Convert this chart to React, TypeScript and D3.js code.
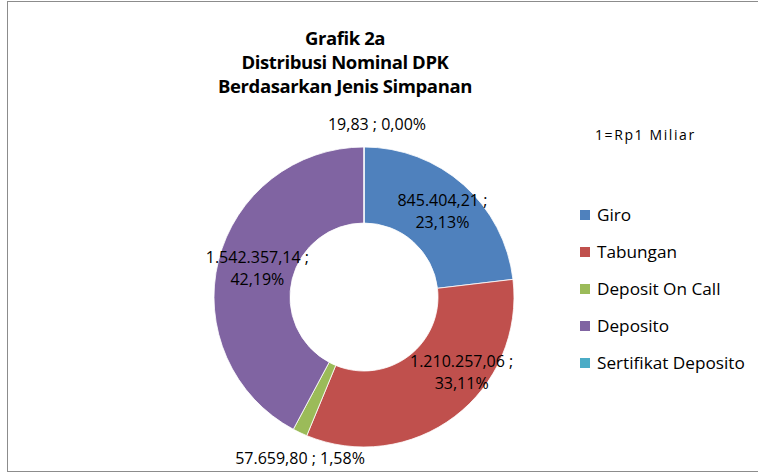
import * as d3 from "d3";
import { useEffect, useRef } from "react";

const categories = ["Giro", "Tabungan", "Deposit On Call", "Deposito", "Sertifikat Deposito"];
const values = [845404.21, 1210257.06, 57659.8, 1542357.14, 19.83];
const percents = [23.13, 33.11, 1.58, 42.19, 0.0];
const colors = ["#4F81BD", "#C0504D", "#9BBB59", "#8064A2", "#4BACC6"];
const titleLines = ["Grafik 2a", "Distribusi  Nominal DPK", "Berdasarkan Jenis Simpanan"];
const unitNote = "1=Rp1 Miliar";

// label layout: inside slices use two lines, small slices get one line outside
const labelTwoLines = [true, true, false, true, false];
const labelOffsets: [number, number][] = [
  [4, -2],
  [30, -14],
  [0, 0],
  [2, -2],
  [0, 0],
];

const W = 758;
const H = 474;
const FONT = "'Open Sans', 'Noto Sans', sans-serif";

const fmtNum = (v: number) => {
  const s = v.toFixed(2).split(".");
  const int = s[0].replace(/\B(?=(\d{3})+(?!\d))/g, ".");
  return `${int},${s[1]}`;
};
const fmtPct = (p: number) => `${p.toFixed(2).replace(".", ",")}%`;

const App = () => {
  const ref = useRef<SVGSVGElement>(null);

  useEffect(() => {
    const svg = d3.select(ref.current);
    svg.selectAll("*").remove();

    // chart area border
    svg
      .append("rect")
      .attr("x", 7.5)
      .attr("y", 1.5)
      .attr("width", W + 10)
      .attr("height", 470)
      .attr("fill", "#fff")
      .attr("stroke", "#8c8c8c")
      .attr("stroke-width", 1);

    // title
    svg
      .append("g")
      .selectAll("text")
      .data(titleLines)
      .join("text")
      .attr("x", 345)
      .attr("y", (_, i) => 45 + i * 24)
      .attr("text-anchor", "middle")
      .style("font-family", FONT)
      .style("font-weight", "bold")
      .style("font-size", "18.5px")
      .style("letter-spacing", "-0.4px")
      .text((d) => d);

    const cx = 364;
    const cy = 297;
    const outer = 150;
    const inner = 74;

    const data = categories.map((name, i) => ({ name, value: values[i], pct: percents[i], i }));
    const pie = d3
      .pie<any>()
      .sort(null)
      .value((d) => d.value);
    const arcs = pie(data);
    const arc = d3.arc<any>().innerRadius(inner).outerRadius(outer);

    const g = svg.append("g").attr("transform", `translate(${cx},${cy})`);
    g.selectAll("path")
      .data(arcs)
      .join("path")
      .attr("d", arc)
      .attr("fill", (d) => colors[d.data.i])
      .attr("stroke", "#fff")
      .attr("stroke-width", 0.8);

    // data labels
    arcs.forEach((d) => {
      const i = d.data.i;
      const [ox, oy] = labelOffsets[i];
      if (labelTwoLines[i]) {
        const [x, y] = arc.centroid(d);
        const t = g
          .append("text")
          .attr("text-anchor", "middle")
          .style("font-family", FONT)
          .style("font-size", "16px")
          .attr("fill", "#000");
        t.append("tspan")
          .attr("x", x + ox)
          .attr("y", y + oy - 5)
          .text(`${fmtNum(d.data.value)} ;`);
        t.append("tspan")
          .attr("x", x + ox)
          .attr("y", y + oy + 17)
          .text(fmtPct(d.data.pct));
      } else {
        // outside labels for the thin slices
        const [x, y] = i === 2 ? [-64, 167] : [13, -167];
        g.append("text")
          .attr("x", x + ox)
          .attr("y", y + oy)
          .attr("text-anchor", "middle")
          .style("font-family", FONT)
          .style("font-size", "16px")
          .text(`${fmtNum(d.data.value)} ; ${fmtPct(d.data.pct)}`);
      }
    });

    // unit note
    svg
      .append("text")
      .attr("x", 595)
      .attr("y", 140)
      .style("font-family", FONT)
      .style("font-size", "14px")
      .style("letter-spacing", "1.6px")
      .text(unitNote);

    // legend
    const legend = svg
      .append("g")
      .selectAll("g")
      .data(categories)
      .join("g")
      .attr("transform", (_, i) => `translate(580,${215 + i * 37})`);
    legend
      .append("rect")
      .attr("x", 0)
      .attr("y", -5)
      .attr("width", 10)
      .attr("height", 10)
      .attr("fill", (_, i) => colors[i]);
    legend
      .append("text")
      .attr("x", 17)
      .attr("y", 6)
      .style("font-family", FONT)
      .style("font-size", "17.2px")
      .text((d) => d);
  }, []);

  return (
    <svg
      ref={ref}
      width={W}
      height={H}
      style={{ position: "absolute", left: 0, top: 0, background: "#fff" }}
    />
  );
};

export default App;
